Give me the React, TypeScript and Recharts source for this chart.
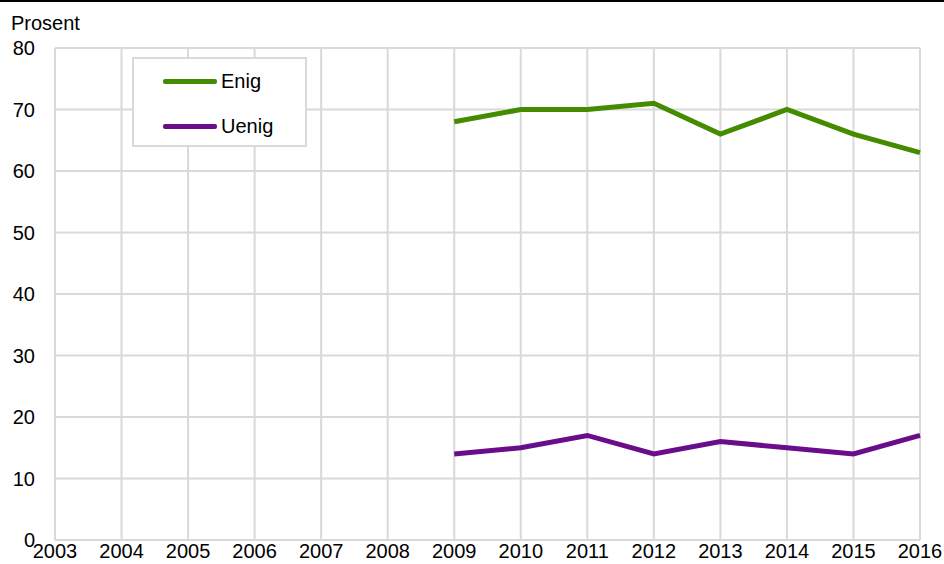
import React from "react";
import {
  LineChart,
  Line,
  XAxis,
  YAxis,
  CartesianGrid,
} from "recharts";

const yearTicks = [2003, 2004, 2005, 2006, 2007, 2008, 2009, 2010, 2011, 2012, 2013, 2014, 2015, 2016];
const yTicks = [0, 10, 20, 30, 40, 50, 60, 70, 80];
const years = [2009, 2010, 2011, 2012, 2013, 2014, 2015, 2016];
const enig = [68, 70, 70, 71, 66, 70, 66, 63];
const uenig = [14, 15, 17, 14, 16, 15, 14, 17];

const data = years.map((year, i) => ({ year, enig: enig[i], uenig: uenig[i] }));

const GREEN = "#458b00";
const PURPLE = "#6a0d8a";
const GRID = "#d9d9d9";
const FONT = "'Liberation Sans', Arial, sans-serif";

function LegendBox() {
  const items = [
    { label: "Enig", color: GREEN },
    { label: "Uenig", color: PURPLE },
  ];
  return (
    <div
      style={{
        position: "absolute",
        left: 132,
        top: 57,
        width: 171,
        height: 86,
        border: `2px solid ${GRID}`,
        background: "#fff",
        fontFamily: FONT,
        fontSize: 20,
      }}
    >
      {items.map((it, i) => (
        <div
          key={it.label}
          style={{
            position: "absolute",
            left: 29,
            top: 8 + i * 45,
            display: "flex",
            alignItems: "center",
            height: 28,
          }}
        >
          <div style={{ width: 54, height: 5, background: it.color, borderRadius: 2 }} />
          <span style={{ marginLeft: 4, color: "#000" }}>{it.label}</span>
        </div>
      ))}
    </div>
  );
}

export default function App() {
  return (
    <div
      style={{
        position: "absolute",
        top: 0,
        left: 0,
        width: 944,
        height: 564,
        background: "#fff",
        fontFamily: FONT,
      }}
    >
      <LineChart
        width={944}
        height={564}
        data={data}
        margin={{ top: 48, right: 24, bottom: 0, left: 0 }}
      >
        <CartesianGrid stroke={GRID} strokeWidth={2} />
        <XAxis
          dataKey="year"
          type="number"
          domain={[2003, 2016]}
          ticks={yearTicks}
          interval={0}
          height={24}
          tickSize={0}
          tickMargin={4}
          axisLine={{ stroke: GRID, strokeWidth: 2 }}
          tick={{ fill: "#000", fontSize: 20, fontFamily: FONT }}
        />
        <YAxis
          domain={[0, 80]}
          ticks={yTicks}
          width={55}
          tickSize={0}
          tickMargin={20}
          axisLine={{ stroke: GRID, strokeWidth: 2 }}
          tick={{ fill: "#000", fontSize: 20, fontFamily: FONT }}
        />
        <Line
          dataKey="enig"
          stroke={GREEN}
          strokeWidth={5}
          dot={false}
          type="linear"
          isAnimationActive={false}
        />
        <Line
          dataKey="uenig"
          stroke={PURPLE}
          strokeWidth={5}
          dot={false}
          type="linear"
          isAnimationActive={false}
        />
      </LineChart>
      <LegendBox />
      <div style={{ position: "absolute", top: 0, left: 0, width: 944, height: 2, background: "#000" }} />
      <div style={{ position: "absolute", top: 12, left: 11, fontSize: 20, color: "#000" }}>Prosent</div>
    </div>
  );
}
